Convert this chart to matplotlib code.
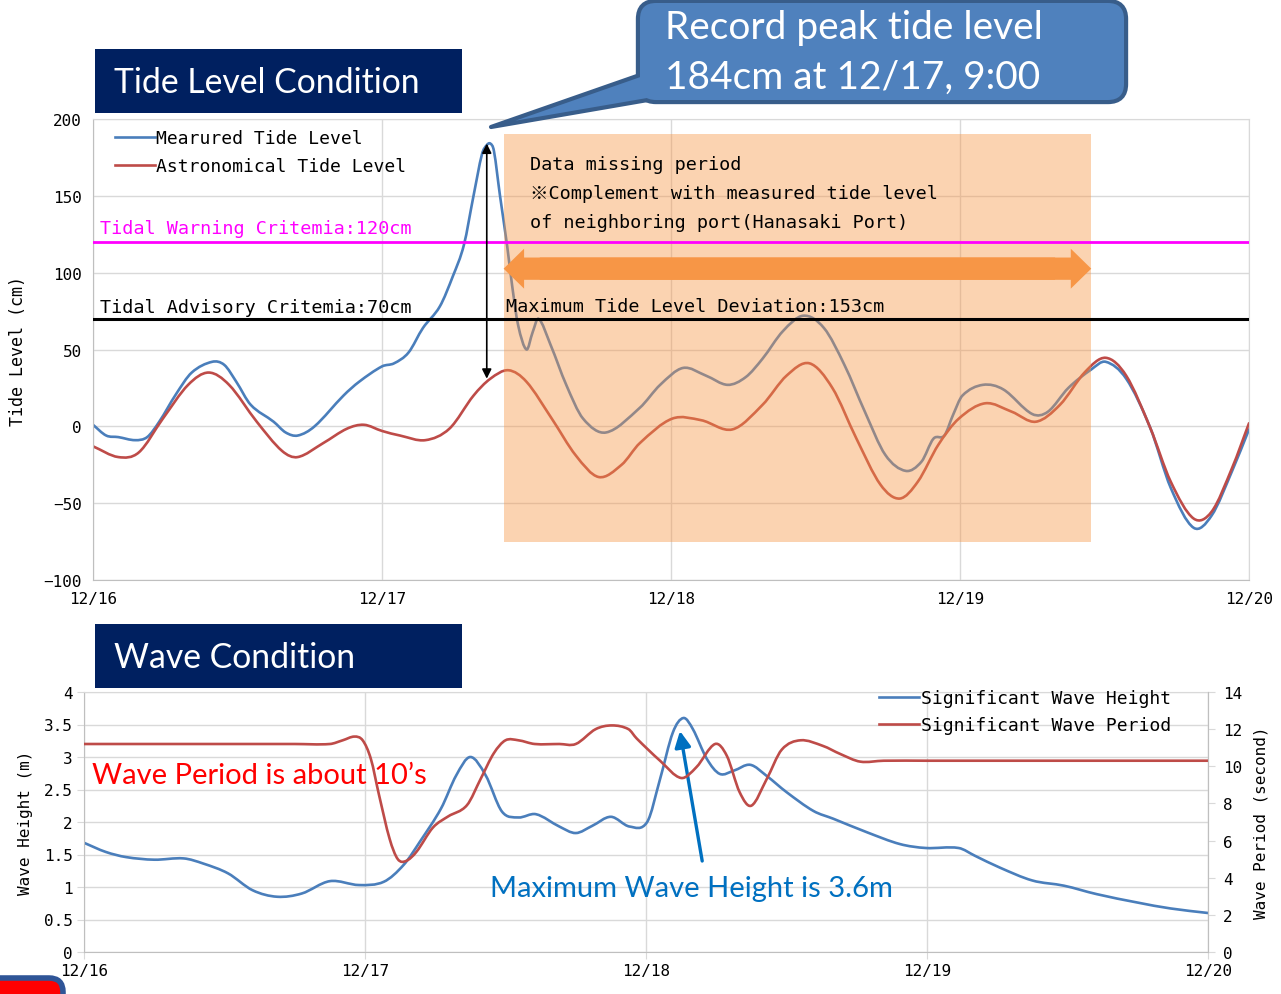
import numpy as np
import matplotlib
matplotlib.use("Agg")
import matplotlib.pyplot as plt
from matplotlib.patches import Rectangle, FancyBboxPatch, Polygon, FancyArrow, PathPatch
from matplotlib.path import Path
from matplotlib.lines import Line2D
from matplotlib.transforms import IdentityTransform

# hours since 12/16 00:00
meas_t = [0, 1.1, 2.1, 3.5, 4.5, 5.5, 6.9, 8.2, 9.9, 10.9, 11.9, 13.1, 15, 16, 17,
          18.4, 20.8, 22.1, 24, 25, 26.2, 27.4, 28.8, 29.9, 30.8, 31.6, 32.3, 32.7,
          33, 33.3, 33.8, 34.4, 34.8, 35.3, 36.0, 36.5, 37.0, 38, 39.3, 40.7, 42.6,
          45.4, 47.1, 49.0, 50.9, 52.7, 54.2, 55.6, 57.3, 59.0, 60.7, 62.4, 64.1,
          65.8, 67.5, 68.8, 69.8, 70.7, 71.4, 72.2, 73.9, 75.6, 78, 79.3, 81.0,
          82.9, 84.1, 85.8, 87.8, 89.5, 91.4, 92.9, 94.6, 96]
meas_cm = [1, -6, -7, -9, -7, 3, 21, 35, 42, 40, 29, 14, 3, -4, -6,
           0, 20, 29, 39, 41, 48, 64, 78, 98, 118, 150, 177, 183,
           184, 179, 150, 117, 92, 66, 50, 61, 70, 53, 27, 5, -4,
           12, 27, 38, 33, 27, 32, 44, 62, 72, 64, 40, 9.5,
           -18.6, -29, -23, -8, -6, 7, 20, 27, 24, 8, 9.5, 25,
           37, 42, 31, -1, -40, -66, -58, -29, -2]

astro_t = [0, 2.1, 3.8, 5.8, 7.9, 9.6, 11.3, 13.6, 15.7, 17, 19.1, 21.1, 22.5, 24,
           25.5, 27.6, 29.6, 31.6, 33, 34.5, 36, 38.1, 40.1, 42, 43.9, 45.4, 48.1,
           50.5, 53.1, 55.6, 57.6, 59.5, 61.4, 63.4, 65.4, 67.0, 68.5, 70.2, 71.9,
           74.1, 76.3, 78.3, 80.3, 82.4, 84.1, 85.8, 87.8, 89.5, 91.4, 92.9, 94.6, 96]
astro_cm = [-13, -20, -17, 5, 27, 35, 27, 3, -16, -20, -11, -1.5, 1, -3,
            -6, -9, -1.5, 20, 31, 36.5, 29, 5, -19, -33, -25, -11, 5,
            4, -2, 14, 33, 41, 25, -8, -38, -47, -36, -12, 5,
            15, 9.5, 3, 14, 35.5, 44.6, 33, -1, -36, -60, -55.5, -27, 2]

warning_cm = 120
advisory_cm = 70
peak_t, peak_cm, deviation_cm = 33, 184, 153
missing_start, missing_end = 34.1, 82.9

wh_t = [0, 1.85, 3.6, 6.0, 8.5, 10.2, 12.3, 14.4, 16.5, 18.6, 21.0, 23.5, 25.6, 27.3,
        28.7, 30.5, 31.8, 33, 34.3, 35.7, 37.1, 38.6, 40.6, 42, 43.4, 45.0, 46.6,
        48.1, 49.2, 50.3, 51.2, 52.0, 53.2, 54.3, 55.5, 56.9, 58.3, 60.0, 62.3,
        64.0, 66.9, 69.7, 71.9, 74.7, 76.1, 78.2, 81.0, 83.7, 86.5, 90.0, 92.8, 96]
wh_m = [1.68, 1.54, 1.46, 1.42, 1.44, 1.36, 1.21, 0.95, 0.85, 0.9, 1.09, 1.03, 1.08, 1.34,
        1.70, 2.21, 2.72, 3.0, 2.72, 2.16, 2.07, 2.12, 1.93, 1.83, 1.94, 2.08, 1.93,
        2.0, 2.66, 3.38, 3.6, 3.43, 2.97, 2.74, 2.79, 2.88, 2.71, 2.46, 2.17,
        2.05, 1.84, 1.66, 1.6, 1.6, 1.48, 1.30, 1.10, 1.02, 0.89, 0.76, 0.67, 0.60]

wp_t = [0, 6, 12, 18, 21.0, 22.1, 23.1, 23.8, 24.5, 25.2, 26.1, 26.8, 27.5, 28.4, 29.8,
        31.1, 32.7, 33.9, 35, 36, 37.1, 38.5, 40.6, 42, 43.7, 45.1, 46.5, 47.2, 49.2,
        51.0, 52.3, 53.9, 54.9, 56.0, 57.0, 58.3, 59.6, 61.2, 63.1, 64.6, 66.3, 68.3,
        72, 78, 84, 90, 96]
wp_s = [11.2, 11.2, 11.2, 11.2, 11.2, 11.4, 11.6, 11.4, 10.4, 8.45, 6.1, 5.0, 4.9, 5.4, 6.7,
        7.3, 7.9, 9.35, 10.7, 11.4, 11.4, 11.2, 11.2, 11.2, 12.0, 12.2, 12.0, 11.5, 10.3,
        9.37, 9.95, 11.2, 10.57, 8.6, 7.88, 9.3, 10.9, 11.4, 11.1, 10.66, 10.25, 10.3,
        10.3, 10.3, 10.3, 10.3, 10.3]

day_ticks = [0, 24, 48, 72, 96]
day_labels = ['12/16', '12/17', '12/18', '12/19', '12/20']

W, H = 1281, 995
MONO = ['DejaVu Sans Mono', 'Noto Sans CJK JP']
SANS = ['Lato', 'DejaVu Sans']
BLUE = '#4A7EBB'
RED = '#BE4B48'
GRID = '#D9D9D9'
NAVY = '#002060'
ORANGE = '#F79646'

plt.rcParams['font.family'] = MONO

fig = plt.figure(figsize=(W / 100, H / 100), dpi=100)
pix = IdentityTransform()


def ax_rect(left, top, right, bottom):
    return [left / W, 1 - bottom / H, (right - left) / W, (bottom - top) / H]


def style_axes(ax):
    ax.set_xlim(0, 96)
    ax.set_xticks(day_ticks)
    ax.set_xticklabels(day_labels)
    ax.grid(True, color=GRID, lw=1)
    ax.set_axisbelow(True)
    for s in ax.spines.values():
        s.set_color(GRID)
    ax.spines['left'].set_color('#BFBFBF')
    ax.spines['bottom'].set_color('#BFBFBF')


def smooth_line(ax, t, v, color, label, lw=1.9, zorder=2):
    """Smoothed series: cubic Bezier segments through every point (slopes in x)."""
    x = np.asarray(t, float)
    y = np.asarray(v, float)
    m = np.empty_like(y)
    m[1:-1] = (y[2:] - y[:-2]) / (x[2:] - x[:-2])
    m[0] = (y[1] - y[0]) / (x[1] - x[0])
    m[-1] = (y[-1] - y[-2]) / (x[-1] - x[-2])
    verts, codes = [(x[0], y[0])], [Path.MOVETO]
    for i in range(len(x) - 1):
        d = (x[i + 1] - x[i]) / 3
        verts += [(x[i] + d, y[i] + m[i] * d),
                  (x[i + 1] - d, y[i + 1] - m[i + 1] * d),
                  (x[i + 1], y[i + 1])]
        codes += [Path.CURVE4] * 3
    ax.add_patch(PathPatch(Path(verts, codes), fill=False, edgecolor=color, lw=lw,
                           capstyle='round', joinstyle='round', zorder=zorder))
    return Line2D([], [], color=color, lw=lw, label=label)


# ---- tide level ----
ax1 = fig.add_axes(ax_rect(93, 120, 1249, 581))
style_axes(ax1)
ax1.set_ylim(-100, 200)
ax1.set_yticks(np.arange(-100, 201, 50))
ax1.tick_params(length=0, labelsize=11.5, pad=8)
ax1.set_ylabel('Tide Level (cm)', fontsize=12, labelpad=12)

h_meas = smooth_line(ax1, meas_t, meas_cm, BLUE, 'Mearured Tide Level')
h_astro = smooth_line(ax1, astro_t, astro_cm, RED, 'Astronomical Tide Level')

ax1.add_patch(Rectangle((missing_start, -75), missing_end - missing_start, 265,
                        facecolor=ORANGE, alpha=0.42, lw=0, zorder=3))
ax1.axhline(warning_cm, color='#FF00FF', lw=2, zorder=4)
ax1.axhline(advisory_cm, color='black', lw=2.2, zorder=4)

# fat double-headed arrow across the missing period
ax1.add_patch(FancyArrow(missing_end - 3, 102.6, missing_start - missing_end + 3, 0,
                         width=14.5, head_width=26, head_length=1.7,
                         length_includes_head=True, color=ORANGE, lw=0, zorder=5))
ax1.add_patch(FancyArrow(missing_start + 3, 102.6, missing_end - missing_start - 3, 0,
                         width=14.5, head_width=26, head_length=1.7,
                         length_includes_head=True, color=ORANGE, lw=0, zorder=5))

ax1.annotate('', xy=(peak_t - 0.3, peak_cm), xytext=(peak_t - 0.3, peak_cm - deviation_cm),
             arrowprops=dict(arrowstyle='<|-|>', color='black', lw=1.2,
                             mutation_scale=14, shrinkA=0, shrinkB=0), zorder=5)

ax1.text(0.6, 129, 'Tidal Warning Critemia:120cm', color='#FF00FF', fontsize=13.3,
         va='center', zorder=6)
ax1.text(0.6, 77.5, 'Tidal Advisory Critemia:70cm', color='black', fontsize=13.3,
         va='center', zorder=6)
ax1.text(36.3, 171, 'Data missing period', fontsize=13.3, va='center', zorder=6)
ax1.text(36.3, 152, '※Complement with measured tide level', fontsize=13.3,
         va='center', zorder=6)
ax1.text(36.3, 133, 'of neighboring port(Hanasaki Port)', fontsize=13.3,
         va='center', zorder=6)
ax1.text(34.3, 78.6, 'Maximum Tide Level Deviation:153cm', fontsize=13.3,
         va='center', zorder=6)

ax1.legend(handles=[h_meas, h_astro], loc='upper left', bbox_to_anchor=(0.019, 0.978),
           frameon=False, fontsize=13, borderpad=0, borderaxespad=0, handlelength=2.2,
           handletextpad=0.1, labelspacing=0.55)

# ---- wave condition ----
ax2 = fig.add_axes(ax_rect(84, 693, 1208, 953))
style_axes(ax2)
ax2.set_ylim(0, 4)
ax2.set_yticks(np.arange(0, 4.01, 0.5))
ax2.set_yticklabels(['0', '0.5', '1', '1.5', '2', '2.5', '3', '3.5', '4'])
ax2.tick_params(length=5, color=GRID, labelsize=11.5, pad=3)
ax2.set_ylabel('Wave Height (m)', fontsize=11.5, labelpad=8)

ax3 = ax2.twinx()
ax3.set_ylim(0, 14)
ax3.set_yticks(np.arange(0, 15, 2))
ax3.tick_params(length=5, color=GRID, labelsize=11.5, pad=6)
ax3.set_ylabel('Wave Period (second)', fontsize=11.5, labelpad=8)
for s in ax3.spines.values():
    s.set_visible(False)
ax3.spines['right'].set_visible(True)
ax3.spines['right'].set_color('#BFBFBF')

l1 = smooth_line(ax2, wh_t, wh_m, BLUE, 'Significant Wave Height')
l2 = smooth_line(ax3, wp_t, wp_s, RED, 'Significant Wave Period')
ax3.legend(handles=[l1, l2], loc='upper right', bbox_to_anchor=(0.967, 1.01),
           frameon=False, fontsize=13, borderpad=0, borderaxespad=0,
           handlelength=2.2, handletextpad=0.1, labelspacing=0.5)

ax3.text(0.68, 2.72 * 3.5, 'Wave Period is about 10’s', family=SANS, fontsize=21,
         color='#FF0000', va='center', zorder=6)
ax2.text(34.7, 0.98, 'Maximum Wave Height is 3.6m', family=SANS, fontsize=21,
         color='#0070C0', va='center', zorder=6)
ax2.annotate('', xy=(50.9, 3.4), xytext=(52.8, 1.4),
             arrowprops=dict(arrowstyle='-|>', color='#0070C0', lw=2.4,
                             mutation_scale=24, shrinkA=0, shrinkB=0))

# ---- heading boxes ----
for top, label in ((50, 'Tide Level Condition'), (625, 'Wave Condition')):
    fig.add_artist(Rectangle((95, H - top - 64), 367, 64, transform=pix,
                             facecolor=NAVY, lw=0))
    fig.text(114, H - top - 33, label, transform=pix, family=SANS, fontsize=24.3,
             color='white', va='center')

# ---- peak callout ----
edge_w = 3
fig.add_artist(FancyBboxPatch((640, H - 101), 484, 97, transform=pix,
                              boxstyle='round,pad=0,rounding_size=16',
                              facecolor='#4F81BD', edgecolor='#385D8A', lw=edge_w * 2))
fig.add_artist(Polygon([(700, H - 55), (491, H - 128), (700, H - 92)], closed=True,
                       transform=pix, facecolor='#4F81BD', edgecolor='#385D8A',
                       lw=edge_w, joinstyle='round'))
fig.add_artist(FancyBboxPatch((640, H - 101), 484, 97, transform=pix,
                              boxstyle='round,pad=0,rounding_size=16',
                              facecolor='#4F81BD', lw=0))
fig.text(665, H - 28, 'Record peak tide level', transform=pix, family=SANS,
         fontsize=28, color='white', va='center')
fig.text(665, H - 78, '184cm at 12/17, 9:00', transform=pix, family=SANS,
         fontsize=28, color='white', va='center')

# corner of the next slide element
fig.add_artist(FancyBboxPatch((-40, -20), 103, 36, transform=pix,
                              boxstyle='round,pad=0,rounding_size=14',
                              facecolor='#FF0000', edgecolor='#2F5597', lw=4))

fig.savefig('out.png', dpi=100)
